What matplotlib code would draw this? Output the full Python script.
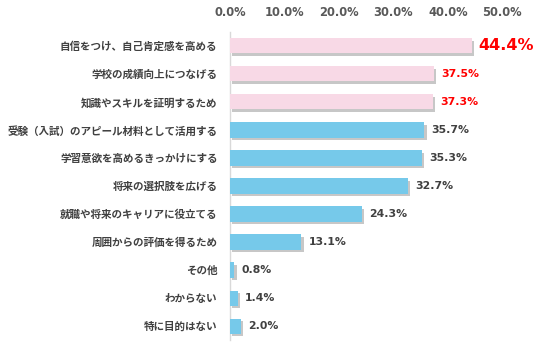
import matplotlib
matplotlib.use("Agg")
import matplotlib.pyplot as plt
import matplotlib.patheffects as pe

plt.rcParams['font.family'] = ['Noto Sans CJK JP', 'DejaVu Sans']

categories = [
    "自信をつけ、自己肯定感を高める",
    "学校の成績向上につなげる",
    "知識やスキルを証明するため",
    "受験（入試）のアピール材料として活用する",
    "学習意欲を高めるきっかけにする",
    "将来の選択肢を広げる",
    "就職や将来のキャリアに役立てる",
    "周囲からの評価を得るため",
    "その他",
    "わからない",
    "特に目的はない",
]
values = [44.4, 37.5, 37.3, 35.7, 35.3, 32.7, 24.3, 13.1, 0.8, 1.4, 2.0]
highlight = [True, True, True, False, False, False, False, False, False, False, False]
ticks = [0, 10, 20, 30, 40, 50]

pink = "#F8D9E6"
blue = "#76C9EA"

fig = plt.figure(figsize=(5.36, 3.58), dpi=100)
ax = fig.add_axes([0.429, 0.05, 0.508, 0.861])

y = list(range(len(categories)))
colors = [pink if h else blue for h in highlight]
shadow = [pe.SimplePatchShadow(offset=(1.6, -1.8), shadow_rgbFace="#999999", alpha=0.55), pe.Normal()]
bars = ax.barh(y, values, height=0.54, color=colors, zorder=3)
for b in bars:
    b.set_path_effects(shadow)

for i, v in enumerate(values):
    if i == 0:
        ax.text(v + 1.2, i, f"{v:.1f}%", va="center", ha="left", color="#FF0000",
                fontsize=11.5, fontweight="bold", family="DejaVu Sans")
    elif highlight[i]:
        ax.text(v + 1.3, i, f"{v:.1f}%", va="center", ha="left", color="#FF0000",
                fontsize=7.8, fontweight="bold", family="DejaVu Sans")
    else:
        ax.text(v + 1.3, i, f"{v:.1f}%", va="center", ha="left", color="#404040",
                fontsize=7.8, fontweight="bold", family="DejaVu Sans")

ax.set_xlim(0, 50)
ax.set_ylim(len(categories) - 0.5, -0.5)
ax.set_yticks(y)
ax.set_yticklabels(categories, fontsize=7.6, color="#404040", fontweight="bold")
ax.set_xticks(ticks)
ax.set_xticklabels([f"{t:.1f}%" for t in ticks], fontsize=8.3, color="#595959",
                   fontweight="bold", family="DejaVu Sans")
ax.xaxis.tick_top()
ax.tick_params(axis="x", length=0, pad=9)
ax.tick_params(axis="y", length=0, pad=9)
for s in ["top", "right", "bottom"]:
    ax.spines[s].set_visible(False)
ax.spines["left"].set_color("#D9D9D9")
ax.spines["left"].set_linewidth(1)

fig.savefig("out.png", dpi=100)
